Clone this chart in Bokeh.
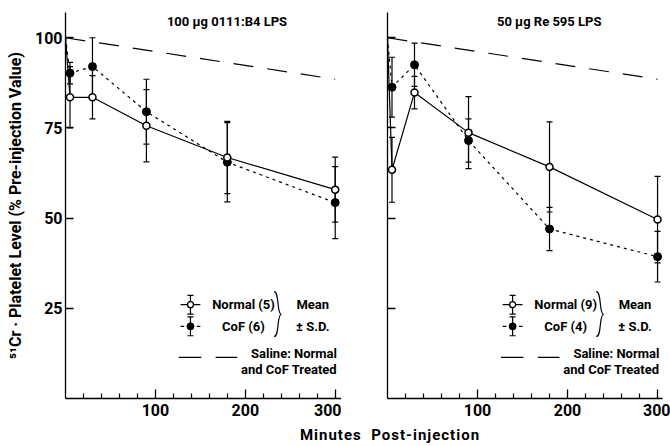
from bokeh.plotting import figure
from bokeh.layouts import row, column
from bokeh.models import (ColumnDataSource, Whisker, TeeHead, FixedTicker, Range1d, Div)
from bokeh.core.properties import value
from bokeh.embed import file_html
from bokeh.resources import INLINE

FONT = "Roboto"

# ---------------- data ----------------
minutes = [0, 5, 30, 90, 180, 300]

left_title = "100 µg    0111:B4 LPS"
left_normal = [100, 83.5, 83.5, 75.6, 66.8, 57.9]
left_normal_sd = [0, 8.5, 6.0, 10.0, 10.0, 9.0]
left_cof = [100, 90.2, 92.0, 79.5, 65.5, 54.3]
left_cof_sd = [0, 3.0, 8.0, 9.0, 11.0, 10.0]
left_labels = ["Normal (5)", "CoF (6)"]

right_title = "50 µg    Re 595 LPS"
right_normal = [100, 63.4, 84.8, 73.7, 64.2, 49.6]
right_normal_sd = [0, 9.0, 4.5, 10.0, 12.5, 12.0]
right_cof = [100, 86.3, 92.5, 71.5, 47.0, 39.3]
right_cof_sd = [0, 8.3, 6.0, 6.0, 6.0, 7.0]
right_labels = ["Normal (9)", "CoF (4)"]

saline_minutes = [0, 300]
saline_values = [100, 88.5]

y_ticks = [25, 50, 75, 100]
x_ticks = [100, 200, 300]
x_minor = [20, 40, 60, 80, 120, 140, 160, 180, 220, 240, 260, 280]

x_label = "Minutes  Post-injection"
y_label = "⁵¹Cr · Platelet Level (% Pre-injection Value)"


def tee():
    return TeeHead(size=6, line_color="black", line_width=1.2)


def whisker(p, xs, ys, sds):
    xs2 = [x for x, s in zip(xs, sds) if s > 0]
    up = [y + s for y, s in zip(ys, sds) if s > 0]
    lo = [y - s for y, s in zip(ys, sds) if s > 0]
    src = ColumnDataSource(dict(x=xs2, upper=up, lower=lo))
    p.add_layout(Whisker(base="x", upper="upper", lower="lower", source=src,
                         line_color="black", line_width=1.2,
                         upper_head=tee(), lower_head=tee()))


def txt(p, xs, ys, texts, size="13px", align="center"):
    p.text(x=xs, y=ys, text=texts, text_font=value(FONT), text_font_style="bold",
           text_font_size=size, text_align=align, text_baseline="middle", text_color="black")


def panel(title, normal, normal_sd, cof, cof_sd, labels, width, xmax, bl, br, show_labels):
    p = figure(width=width, height=425, x_range=Range1d(0, xmax), y_range=Range1d(0, 107),
               output_backend="svg", toolbar_location=None,
               min_border_left=bl, min_border_right=br, min_border_top=12, min_border_bottom=27)
    p.outline_line_color = None
    p.grid.visible = False
    p.background_fill_color = "white"
    p.border_fill_color = "white"

    xa = p.xaxis[0]
    xa.ticker = FixedTicker(ticks=x_ticks, minor_ticks=x_minor)
    xa.major_tick_in = 9
    xa.major_tick_out = 0
    xa.minor_tick_in = 5
    xa.minor_tick_out = 0
    xa.axis_line_width = 1.3
    xa.major_tick_line_width = 1.3
    xa.minor_tick_line_width = 1.2
    xa.major_label_text_font = FONT
    xa.major_label_text_font_style = "bold"
    xa.major_label_text_font_size = "16px"
    xa.major_label_standoff = 5
    xa.major_label_text_color = "black"

    ya = p.yaxis[0]
    ya.ticker = FixedTicker(ticks=y_ticks)
    ya.major_tick_in = 8
    ya.major_tick_out = 0
    ya.minor_tick_in = 0
    ya.minor_tick_out = 0
    ya.axis_line_width = 1.3
    ya.major_tick_line_width = 1.3
    ya.major_label_text_font = FONT
    ya.major_label_text_font_style = "bold"
    ya.major_label_text_font_size = "16px"
    ya.major_label_standoff = 3
    ya.major_label_text_color = "black"
    if show_labels:
        ya.axis_label = y_label
        ya.axis_label_text_font = FONT
        ya.axis_label_text_font_style = "bold"
        ya.axis_label_text_font_size = "16px"
        ya.axis_label_standoff = 7
        ya.axis_label_text_color = "black"
    else:
        ya.major_label_overrides = {t: "" for t in y_ticks}

    # saline
    p.line(saline_minutes, saline_values, line_color="black", line_width=1.2, line_dash="20 14")
    # series
    p.line(minutes, normal, line_color="black", line_width=1.2)
    p.line(minutes, cof, line_color="black", line_width=1.2, line_dash="3 4")
    whisker(p, minutes, normal, normal_sd)
    whisker(p, minutes, cof, cof_sd)
    p.scatter(minutes[1:], cof[1:], size=8, fill_color="black", line_color="black")
    p.scatter(minutes[1:], normal[1:], size=7, fill_color="white", line_color="black", line_width=1.5)

    # title
    txt(p, [185], [104.6], [title], size="13px")

    # legend (layout constants)
    lx = 139
    p.line([lx - 11, lx + 11], [26, 26], line_color="black", line_width=1.2)
    p.line([lx - 11, lx - 7], [20, 20], line_color="black", line_width=1.2)
    p.line([lx + 7, lx + 11], [20, 20], line_color="black", line_width=1.2)
    lsrc = ColumnDataSource(dict(x=[lx, lx], upper=[28.6, 22.6], lower=[23.4, 17.4]))
    p.add_layout(Whisker(base="x", upper="upper", lower="lower", source=lsrc,
                         line_color="black", line_width=1.2,
                         upper_head=tee(), lower_head=tee()))
    p.scatter([lx], [26], size=6, fill_color="white", line_color="black", line_width=1.3)
    p.scatter([lx], [20], size=7, fill_color="black", line_color="black")
    txt(p, [198, 198], [26, 20], labels)
    # brace
    p.bezier(x0=[232, 240], y0=[29.6, 23.3], x1=[240, 232], y1=[23.3, 17.2],
             cx0=[238, 235], cy0=[29.6, 23.3], cx1=[235, 238], cy1=[23.3, 17.2],
             line_color="black", line_width=1.2)
    txt(p, [275, 275], [26, 20], ["Mean", "± S.D."])
    p.line([126, 151], [11.4, 11.4], line_color="black", line_width=1.2)
    p.line([167, 191], [11.4, 11.4], line_color="black", line_width=1.2)
    txt(p, [302, 302], [12.6, 8.0], ["Saline: Normal", "and CoF Treated"], align="right")
    return p


left = panel(left_title, left_normal, left_normal_sd, left_cof, left_cof_sd, left_labels,
             width=341, xmax=307, bl=65, br=0, show_labels=True)
right = panel(right_title, right_normal, right_normal_sd, right_cof, right_cof_sd, right_labels,
              width=329, xmax=305.5, bl=46, br=8, show_labels=False)

label = Div(text=('<div style="width:670px;padding-left:110px;box-sizing:border-box;text-align:center;'
                  'font-family:Roboto, sans-serif;font-weight:bold;font-size:15px;'
                  'letter-spacing:1px;line-height:21px;color:black">'
                  + x_label.replace("  ", "&nbsp;&nbsp;") + '</div>'),
            width=670, height=21, margin=0)

layout = column(row(left, right, margin=0), label, margin=0)
open("out.html", "w").write(file_html(layout, INLINE))
